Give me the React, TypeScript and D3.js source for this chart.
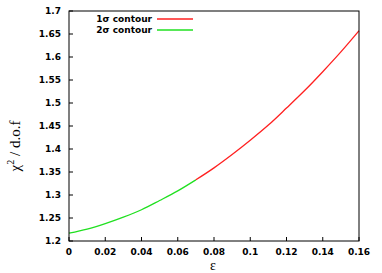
import * as d3 from "d3";

const eps = [0, 0.01, 0.02, 0.03, 0.04, 0.05, 0.06, 0.07, 0.08, 0.09, 0.1, 0.11, 0.12, 0.13, 0.14, 0.15, 0.16];
const chi2 = [1.217, 1.226, 1.238, 1.252, 1.268, 1.288, 1.309, 1.333, 1.359, 1.388, 1.419, 1.452, 1.489, 1.527, 1.568, 1.611, 1.657];
const split = 0.07; // 2σ below, 1σ above
const xTicks = [0, 0.02, 0.04, 0.06, 0.08, 0.1, 0.12, 0.14, 0.16];
const yTicks = [1.2, 1.25, 1.3, 1.35, 1.4, 1.45, 1.5, 1.55, 1.6, 1.65, 1.7];
const legend = [
  { label: "1σ contour", color: "#ff2020" },
  { label: "2σ contour", color: "#20e020" },
];

const W = 382;
const H = 273;
const left = 69;
const right = 359;
const top = 11;
const bottom = 241;

const App = () => {
  const x = d3.scaleLinear().domain([0, 0.16]).range([left, right]);
  const y = d3.scaleLinear().domain([1.2, 1.7]).range([bottom, top]);
  const pts: [number, number][] = eps.map((e, i) => [e, chi2[i]]);
  const line = d3
    .line<[number, number]>()
    .x((d) => x(d[0]))
    .y((d) => y(d[1]))
    .curve(d3.curveMonotoneX);
  const green = pts.filter((d) => d[0] <= split);
  const red = pts.filter((d) => d[0] >= split);
  const tickFont = { fontFamily: "DejaVu Sans", fontWeight: "bold", fontSize: 9 };

  return (
    <svg width={W} height={H} style={{ position: "absolute", left: 0, top: 0, background: "#fff" }}>
      {yTicks.map((t) => (
        <g key={"y" + t}>
          <line x1={left} x2={left + 4} y1={y(t)} y2={y(t)} stroke="#000" />
          <text x={61} y={y(t) + 3.3} textAnchor="end" {...tickFont}>
            {String(t)}
          </text>
        </g>
      ))}
      {xTicks.map((t) => (
        <g key={"x" + t}>
          <line x1={x(t)} x2={x(t)} y1={bottom} y2={bottom - 4} stroke="#000" />
          <text x={x(t)} y={254.5} textAnchor="middle" {...tickFont}>
            {String(t)}
          </text>
        </g>
      ))}
      <path d={line(green) ?? ""} fill="none" stroke="#20e020" strokeWidth={1.3} />
      <path d={line(red) ?? ""} fill="none" stroke="#ff2020" strokeWidth={1.3} />
      <rect x={left} y={top} width={right - left} height={bottom - top} fill="none" stroke="#000" />
      {legend.map((l, i) => (
        <g key={l.label}>
          <text x={152} y={22 + i * 11} textAnchor="end" {...tickFont}>
            {l.label}
          </text>
          <line x1={157} x2={193} y1={19 + i * 11} y2={19 + i * 11} stroke={l.color} strokeWidth={1.3} />
        </g>
      ))}
      <text x={213} y={270} textAnchor="middle" fontFamily="Liberation Serif" fontSize={14}>
        ε
      </text>
      <text
        transform="translate(20,146) rotate(-90)"
        textAnchor="middle"
        fontFamily="Liberation Serif"
        fontSize={15}
      >
        χ<tspan fontSize={10} dy={-6}>2</tspan>
        <tspan dy={6}> / d.o.f</tspan>
      </text>
    </svg>
  );
};

export default App;
